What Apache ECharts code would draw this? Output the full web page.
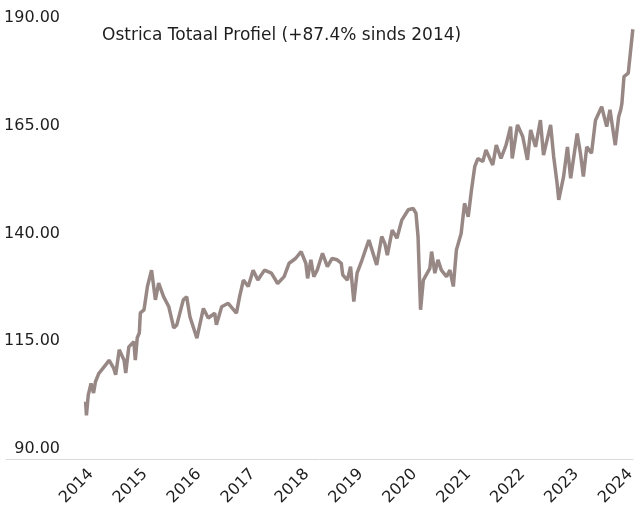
<!DOCTYPE html>
<html>
<head>
<meta charset="utf-8">
<script src="https://cdn.jsdelivr.net/npm/echarts@6/dist/echarts.min.js"></script>
<style>
  html, body { margin: 0; padding: 0; background: #fff; }
  #main { width: 638px; height: 510px; }
</style>
</head>
<body>
<div id="main"></div>
<script>
// index level (start = 100)
var dates = [
  '2014-01-02', '2014-01-08', '2014-01-20', '2014-02-08', '2014-02-25', '2014-03-10',
  '2014-04-01', '2014-05-18', '2014-06-10', '2014-07-12', '2014-07-25', '2014-08-18',
  '2014-09-20', '2014-10-01', '2014-10-22', '2014-11-25', '2014-12-05', '2014-12-18',
  '2015-01-01', '2015-01-08', '2015-02-02', '2015-02-25', '2015-03-25', '2015-04-20',
  '2015-05-12', '2015-06-15', '2015-07-20', '2015-08-22', '2015-09-12', '2015-10-26',
  '2015-11-18', '2015-12-10', '2016-01-26', '2016-03-10', '2016-04-12', '2016-05-26',
  '2016-06-06', '2016-07-12', '2016-08-25', '2016-10-20', '2016-11-10', '2016-12-06',
  '2017-01-08', '2017-02-10', '2017-03-14', '2017-04-28', '2017-06-14', '2017-07-26',
  '2017-09-08', '2017-10-12', '2017-11-24', '2018-01-01', '2018-02-02', '2018-02-14',
  '2018-03-08', '2018-03-28', '2018-04-20', '2018-05-26', '2018-06-28', '2018-07-30',
  '2018-09-02', '2018-09-30', '2018-10-10', '2018-11-10', '2018-12-02', '2018-12-24',
  '2019-01-15', '2019-02-18', '2019-04-05', '2019-04-26', '2019-05-28', '2019-07-01',
  '2019-07-22', '2019-08-08', '2019-09-10', '2019-10-12', '2019-11-14', '2019-12-28',
  '2020-01-30', '2020-02-18', '2020-03-03', '2020-03-20', '2020-04-08', '2020-05-22',
  '2020-06-03', '2020-06-25', '2020-07-16', '2020-08-08', '2020-09-12', '2020-10-05',
  '2020-10-28', '2020-11-18', '2020-12-20', '2021-01-12', '2021-02-06', '2021-02-28',
  '2021-03-22', '2021-04-12', '2021-05-16', '2021-06-06', '2021-07-22', '2021-08-15',
  '2021-09-16', '2021-10-20', '2021-11-20', '2021-12-01', '2022-01-06', '2022-02-10',
  '2022-03-14', '2022-04-05', '2022-05-08', '2022-06-10', '2022-07-01', '2022-08-18',
  '2022-09-08', '2022-10-01', '2022-10-12', '2022-11-14', '2022-12-10', '2023-01-01',
  '2023-02-14', '2023-03-08', '2023-03-28', '2023-04-20', '2023-05-22', '2023-06-18',
  '2023-07-30', '2023-09-02', '2023-09-24', '2023-10-30', '2023-11-22', '2023-12-06',
  '2023-12-14', '2023-12-28', '2024-01-26', '2024-02-26'
];
var values = [
  101.0, 97.8, 102.5, 105.2, 103.0, 105.6,
  107.5, 109.5, 110.6, 108.7, 107.2, 113.0,
  110.6, 107.6, 113.7, 114.9, 110.6, 115.8,
  116.9, 121.6, 122.3, 127.7, 131.5, 124.6,
  128.5, 125.3, 123.0, 118.1, 118.8, 124.6,
  125.3, 120.7, 115.7, 122.6, 120.4, 121.5,
  118.8, 123.0, 123.8, 121.5, 125.3, 129.2,
  127.7, 131.5, 129.2, 131.5, 130.8, 128.4,
  130.0, 133.1, 134.2, 135.8, 133.1, 129.6,
  133.9, 130.0, 131.5, 135.4, 132.3, 134.2,
  133.9, 133.1, 130.4, 129.2, 132.3, 124.2,
  130.8, 133.9, 138.5, 136.2, 132.7, 139.3,
  137.7, 135.0, 140.8, 138.9, 143.1, 145.5,
  145.8, 144.7, 139.3, 122.3, 129.2, 131.9,
  135.8, 130.8, 133.9, 131.5, 130.0, 131.5,
  127.7, 136.2, 140.0, 147.0, 143.9, 150.1,
  155.5, 157.4, 156.7, 159.4, 155.9, 160.5,
  157.4, 160.5, 164.8, 157.4, 165.2, 162.5,
  157.1, 164.0, 160.1, 166.3, 158.2, 165.2,
  157.8, 151.6, 147.8, 153.2, 160.1, 152.8,
  163.2, 158.6, 153.2, 160.1, 158.6, 166.3,
  169.4, 164.8, 168.7, 160.5, 167.1, 168.7,
  170.2, 176.4, 177.2, 187.4
];
var yearLabels = [2014, 2015, 2016, 2017, 2018, 2019, 2020, 2021, 2022, 2023, 2024];
var title = 'Ostrica Totaal Profiel (+87.4% sinds 2014)';

var chartDom = document.getElementById('main');
var myChart = echarts.init(chartDom);

function ts(s) {
  var p = s.split('-');
  return Date.UTC(+p[0], +p[1] - 1, +p[2]);
}

var seriesData = dates.map(function (d, i) {
  return [ts(d), values[i]];
});

var option = {
  animation: false,
  textStyle: { fontFamily: 'DejaVu Sans' },
  title: {
    text: title,
    left: 97,
    top: 22,
    textStyle: {
      fontFamily: 'DejaVu Sans',
      fontSize: 17,
      fontWeight: 'normal',
      color: '#1e1e1e'
    }
  },
  grid: {
    left: 6,
    right: 0,
    top: 18,
    bottom: 61
  },
  xAxis: {
    type: 'value',
    min: ts('2012-07-12'),
    max: ts('2024-02-26'),
    offset: 10,
    axisLine: { lineStyle: { color: '#d9d9d9', width: 1 } },
    axisTick: { show: false },
    splitLine: { show: false },
    axisLabel: {
      customValues: yearLabels.map(function (y) {
        return Date.UTC(y, 0, 1);
      }),
      formatter: function (v) {
        return String(new Date(v).getUTCFullYear());
      },
      rotate: 45,
      verticalAlign: 'top',
      margin: 7,
      fontSize: 16,
      color: '#1e1e1e'
    }
  },
  yAxis: {
    type: 'value',
    min: 90,
    max: 190,
    interval: 25,
    axisLine: { show: false },
    axisTick: { show: false },
    splitLine: { show: false },
    axisLabel: {
      inside: true,
      align: 'right',
      margin: 54,
      fontSize: 16,
      color: '#1e1e1e',
      formatter: function (v) {
        return v.toFixed(2);
      }
    }
  },
  series: [
    {
      type: 'line',
      data: seriesData,
      showSymbol: false,
      symbol: 'none',
      lineStyle: { color: '#988885', width: 3.5, join: 'bevel' },
      z: 3
    }
  ]
};

myChart.setOption(option);
</script>
</body>
</html>
